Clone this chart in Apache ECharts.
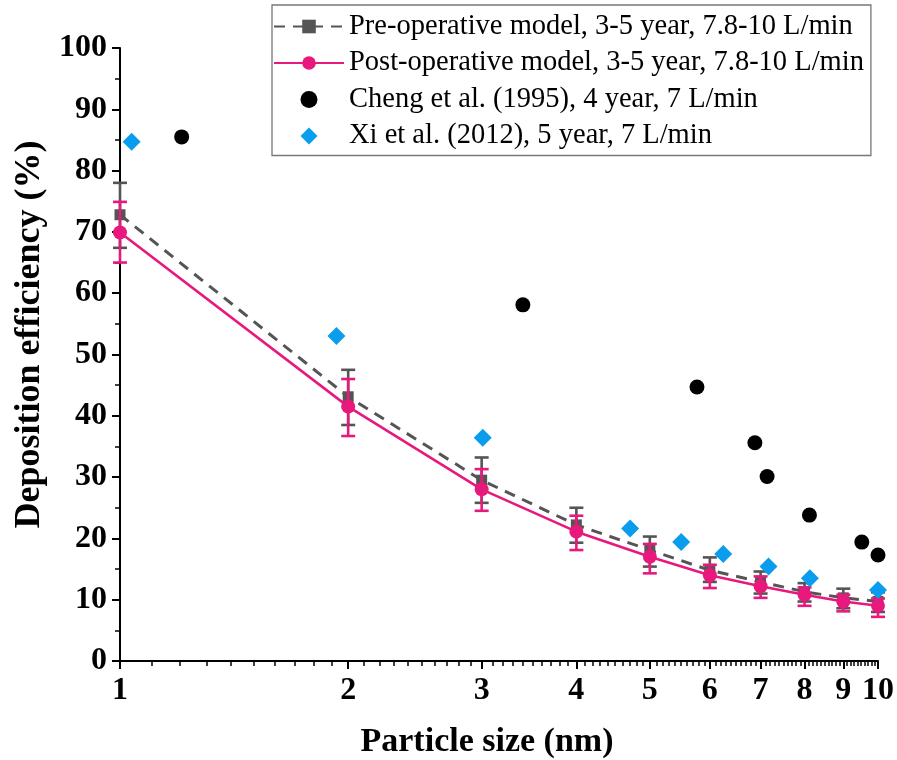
<!DOCTYPE html>
<html>
<head>
<meta charset="utf-8">
<script src="https://cdn.jsdelivr.net/npm/echarts@6/dist/echarts.min.js"></script>
<style>
html,body{margin:0;padding:0;background:#fff;}
#chart{width:897px;height:760px;}
</style>
</head>
<body>
<div id="chart"></div>
<script>
// Particle sizes (nm)
var sizes = [1, 2, 3, 4, 5, 6, 7, 8, 9, 10];
// Pre-operative model (mean, lower, upper)
var preMean = [72.8, 43.1, 29.5, 22.2, 18.1, 14.8, 12.9, 11.3, 10.3, 9.7];
var preLow  = [67.4, 38.5, 25.8, 19.3, 15.4, 12.9, 11.0, 9.7, 8.6, 8.0];
var preHigh = [78.0, 47.5, 33.2, 25.0, 20.3, 16.9, 14.6, 12.7, 11.8, 11.2];
// Post-operative model
var postMean = [69.9, 41.5, 28.0, 21.1, 17.0, 14.0, 12.2, 10.8, 9.7, 9.0];
var postLow  = [65.0, 36.7, 24.5, 18.1, 14.3, 11.9, 10.3, 9.0, 8.1, 7.2];
var postHigh = [74.9, 46.0, 31.3, 23.7, 19.1, 15.7, 13.8, 12.0, 10.8, 10.2];
// Cheng et al. (1995)
var chengX = [1.206, 3.40, 5.77, 6.88, 7.14, 8.12, 9.52, 10.0];
var chengY = [85.5, 58.1, 44.7, 35.6, 30.1, 23.8, 19.4, 17.3];
// Xi et al. (2012)
var xiX = [1.036, 1.93, 3.01, 4.71, 5.50, 6.25, 7.17, 8.13, 10.0];
var xiY = [84.7, 53.0, 36.4, 21.6, 19.4, 17.45, 15.4, 13.5, 11.6];
// Axis tick labels
var xTickLabels = [1, 2, 3, 4, 5, 6, 7, 8, 9, 10];

var names = [
  'Pre-operative model, 3-5 year, 7.8-10 L/min',
  'Post-operative model, 3-5 year, 7.8-10 L/min',
  'Cheng et al. (1995), 4 year, 7 L/min',
  'Xi et al. (2012), 5 year, 7 L/min'
];
var GRAY = '#555555', PINK = '#e8197d', BLUE = '#0b9ded';
var FONT = '"Liberation Serif", "Times New Roman", serif';
var DIAMOND = 'path://M0,-10L10,0L0,10L-10,0Z';

var minorVals = [];
for (var d = 1; d < 10; d++) {
  for (var k = 1; k < 10; k++) minorVals.push(+(d + k / 10).toFixed(1));
}

function zip(a, b) { return a.map(function (v, i) { return [v, b[i]]; }); }

function errSeries(low, high, color, z) {
  return {
    type: 'custom',
    xAxisIndex: 0, yAxisIndex: 0,
    z: z,
    silent: true,
    data: sizes.map(function (x, i) { return [x, low[i], high[i]]; }),
    renderItem: function (params, api) {
      var p1 = api.coord([api.value(0), api.value(1)]);
      var p2 = api.coord([api.value(0), api.value(2)]);
      var hw = 7;
      var st = { stroke: color, lineWidth: 2.6 };
      return {
        type: 'group',
        children: [
          { type: 'line', shape: { x1: p1[0], y1: p1[1], x2: p2[0], y2: p2[1] }, style: st },
          { type: 'line', shape: { x1: p1[0] - hw, y1: p1[1], x2: p1[0] + hw, y2: p1[1] }, style: st },
          { type: 'line', shape: { x1: p2[0] - hw, y1: p2[1], x2: p2[0] + hw, y2: p2[1] }, style: st }
        ]
      };
    }
  };
}

var chart = echarts.init(document.getElementById('chart'), null, { renderer: 'canvas' });
chart.setOption({
  animation: false,
  backgroundColor: '#fff',
  grid: { left: 120, right: 19, top: 48, bottom: 99, containLabel: false, outerBoundsMode: 'none' },
  legend: {
    orient: 'vertical',
    left: 272, top: 5,
    padding: [7, 7, 5, 1],
    borderColor: '#777', borderWidth: 1.3,
    backgroundColor: '#fff',
    itemWidth: 70, itemHeight: 17, itemGap: 7.5,
    textStyle: { fontFamily: FONT, fontSize: 28.5, color: '#000', lineHeight: 28 },
    data: [
      { name: names[0] },
      { name: names[1] },
      { name: names[2] },
      { name: names[3], icon: DIAMOND }
    ]
  },
  xAxis: [{
    type: 'log', logBase: 10, min: 1, max: 10,
    name: 'Particle size (nm)', nameLocation: 'middle', nameGap: 64,
    nameTextStyle: { fontFamily: FONT, fontSize: 34, fontWeight: 'bold', color: '#000', padding: [0, 24, 0, 0] },
    axisLine: { show: true, onZero: false, lineStyle: { color: '#000', width: 2 } },
    axisTick: { show: true, inside: false, length: 8, customValues: xTickLabels, lineStyle: { color: '#000', width: 2 } },
    axisLabel: { show: true, customValues: xTickLabels, margin: 14, fontFamily: FONT, fontSize: 32, fontWeight: 'bold', color: '#000' },
    minorTick: { show: false },
    splitLine: { show: false }
  }, {
    type: 'log', logBase: 10, min: 1, max: 10, position: 'bottom',
    axisLine: { show: false },
    axisTick: { show: true, length: 5, customValues: minorVals, lineStyle: { color: '#000', width: 1.5 } },
    axisLabel: { show: false },
    splitLine: { show: false }
  }],
  yAxis: {
    type: 'value', min: 0, max: 100, interval: 10,
    name: 'Deposition efficiency (%)', nameLocation: 'middle', nameGap: 72,
    nameTextStyle: { fontFamily: FONT, fontSize: 36, fontWeight: 'bold', color: '#000', padding: [0, 0, 0, 40] },
    axisLine: { show: true, onZero: false, lineStyle: { color: '#000', width: 2 } },
    axisTick: { show: true, length: 8, lineStyle: { color: '#000', width: 2 } },
    minorTick: { show: true, splitNumber: 2, length: 5, lineStyle: { color: '#000', width: 1.5 } },
    axisLabel: { margin: 13, fontFamily: FONT, fontSize: 32, fontWeight: 'bold', color: '#000' },
    splitLine: { show: false }
  },
  series: [
    {
      name: names[0], type: 'line', xAxisIndex: 0, z: 2,
      data: zip(sizes, preMean),
      symbol: 'rect', symbolSize: 11,
      itemStyle: { color: GRAY },
      lineStyle: { color: GRAY, width: 3, type: [11, 8] }
    },
    errSeries(preLow, preHigh, GRAY, 3),
    {
      name: names[1], type: 'line', xAxisIndex: 0, z: 4,
      data: zip(sizes, postMean),
      symbol: 'circle', symbolSize: 14,
      itemStyle: { color: PINK },
      lineStyle: { color: PINK, width: 2.6 }
    },
    errSeries(postLow, postHigh, PINK, 5),
    {
      name: names[2], type: 'scatter', xAxisIndex: 0, z: 6,
      data: zip(chengX, chengY),
      symbol: 'circle', symbolSize: 15,
      itemStyle: { color: '#000', opacity: 1 }
    },
    {
      name: names[3], type: 'scatter', xAxisIndex: 0, z: 6,
      data: zip(xiX, xiY),
      symbol: DIAMOND, symbolSize: 18,
      itemStyle: { color: BLUE, opacity: 1 }
    }
  ]
});
</script>
</body>
</html>
